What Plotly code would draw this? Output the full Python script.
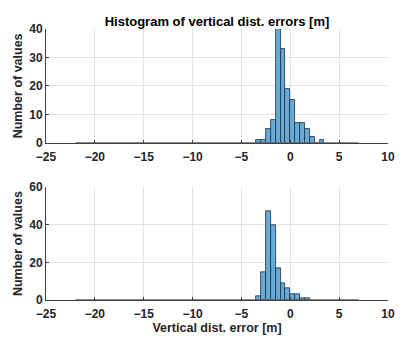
import plotly.graph_objects as go

bin_width = 0.5
data_range = [-22.0, 7.0]  # span of histogram bins (zero-count outside bars)

top_left_edges = [-3.5, -3.0, -2.5, -2.0, -1.5, -1.0, -0.5, 0.0, 0.5, 1.0, 1.5, 2.0, 2.5, 3.0]
top_counts = [1, 1, 5, 8, 40, 33, 19, 15, 7, 7, 5, 2, 0, 1]

bot_left_edges = [-3.5, -3.0, -2.5, -2.0, -1.5, -1.0, -0.5, 0.0, 0.5, 1.0, 1.5]
bot_counts = [2, 15, 47, 40, 17, 9, 6, 3, 3, 1, 1]

title_text = "Histogram of vertical dist. errors [m]"
ytitle = "Number of values"
xtitle = "Vertical dist. error [m]"

FONT = "Liberation Sans, Arial, sans-serif"
bar_fill = "#66AAD7"
bar_edge = "#1c2e40"
axis_col = "#404040"
grid_col = "#e3e3e3"

fig = go.Figure()

def add_hist(edges, counts, xa, ya):
    centers = [e + bin_width / 2 for e in edges]
    fig.add_trace(go.Bar(x=centers, y=counts, width=bin_width,
                         marker=dict(color=bar_fill, line=dict(color=bar_edge, width=0.8)),
                         xaxis=xa, yaxis=ya, showlegend=False))
    fig.add_trace(go.Scatter(x=data_range, y=[0, 0], mode="lines",
                             line=dict(color="#666666", width=1.5),
                             xaxis=xa, yaxis=ya, showlegend=False))

add_hist(top_left_edges, top_counts, "x", "y")
add_hist(bot_left_edges, bot_counts, "x2", "y2")

tickfont = dict(family=FONT, size=12, color="#262626", weight="bold")
titlefont = dict(family=FONT, size=12.5, color="#262626", weight="bold")

xcommon = dict(range=[-25, 10], dtick=5, tick0=-25, showgrid=True, gridcolor=grid_col, gridwidth=1,
               showline=True, linecolor=axis_col, linewidth=1, ticks="inside", ticklen=3,
               tickcolor=axis_col, tickfont=tickfont, zeroline=False, mirror=False,
               ticklabelstandoff=3)
ycommon = dict(showgrid=True, gridcolor=grid_col, gridwidth=1, showline=True, linecolor=axis_col,
               linewidth=1, ticks="inside", ticklen=3, tickcolor=axis_col, tickfont=tickfont,
               zeroline=False, title=dict(text=ytitle, font=titlefont, standoff=3))

fig.update_layout(
    width=404, height=341,
    margin=dict(l=46, r=9, t=29, b=38),
    paper_bgcolor="white", plot_bgcolor="white",
    bargap=0,
    xaxis=dict(domain=[0, 1], anchor="y", **xcommon),
    yaxis=dict(domain=[0.5803, 1.0], anchor="x", range=[0, 40], dtick=10, **ycommon),
    xaxis2=dict(domain=[0, 1], anchor="y2", title=dict(text=xtitle, font=titlefont, standoff=2), **xcommon),
    yaxis2=dict(domain=[0.0, 0.4161], anchor="x2", range=[0, 60], dtick=20, **ycommon),
    title=dict(text=title_text, font=dict(family=FONT, size=13, color="#000000", weight="bold"),
               x=0.5, xanchor="center", y=1 - 21 / 341, yanchor="middle", xref="paper"),
)

fig.write_html("out.html")
